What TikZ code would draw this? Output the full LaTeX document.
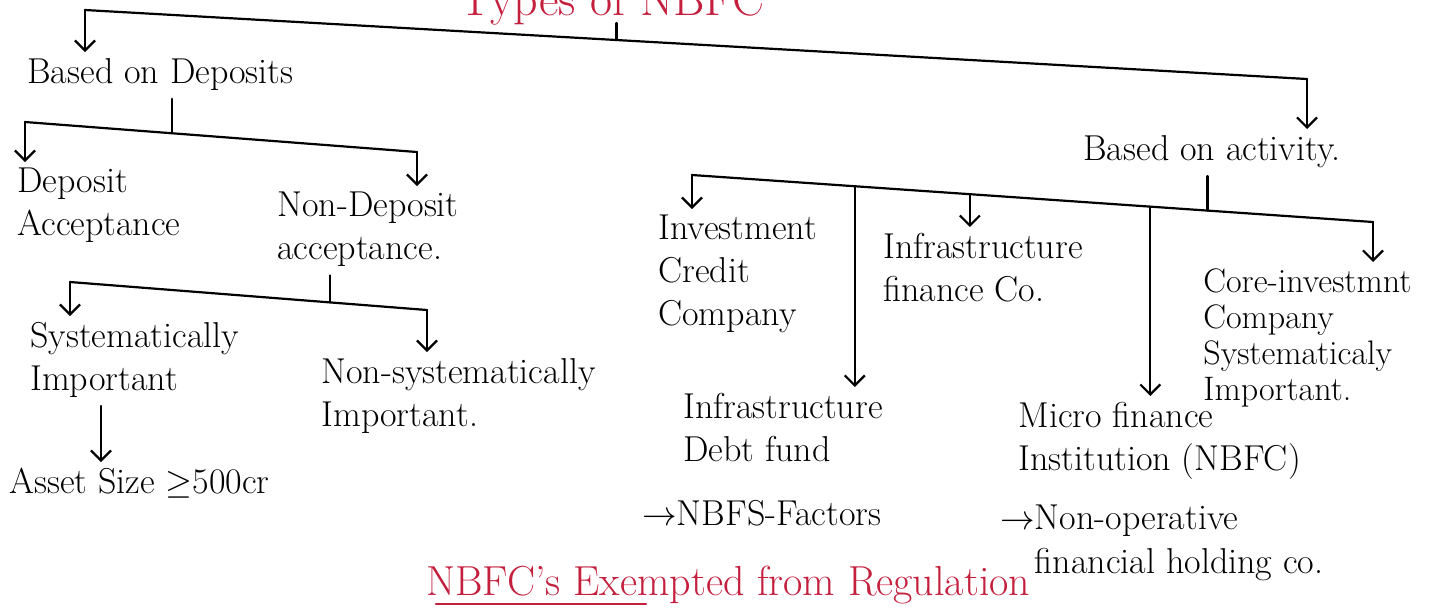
\documentclass[tikz,border=0pt]{standalone}
\usepackage{tikz}
\usepackage{amsmath}
\usepackage{amssymb}
\usetikzlibrary{arrows.meta, positioning, calc}

\definecolor{inkred}{RGB}{196,32,62}

\tikzset{
  note/.style={align=left, inner sep=0pt, anchor=north west, font=\fontsize{18}{21.5}\selectfont},
  redink/.style={inner sep=0pt, anchor=base west, text=inkred, font=\fontsize{24}{28}\selectfont},
  bar/.style={line width=1.1pt, line cap=round},
  tick/.style={bar, shorten <=4pt},
  down/.style={bar, -{Straight Barb[length=5pt,width=10pt]}, shorten >=3pt},
}

\begin{document}
\begin{tikzpicture}[x=0.5pt, y=-0.5pt]
% Page frame (same size as the scan)
\clip (0,0) rectangle (1447,607);

% Red headings
\node[redink, anchor=base] (title) at (612,15) {Types of NBFC};
\node[redink, font=\fontsize{21}{25}\selectfont] (exempt) at (426,595) {NBFC's Exempted from Regulation};
\draw[bar, inkred] ([shift={(10,9)}]exempt.base west) -- ([shift={(220,9)}]exempt.base west);

% Two main groups
\node[note] (dep) at (27,58) {Based on Deposits};
\node[note] (act) at (1083,135) {Based on activity.};

% Deposit side
\node[note] (dacc) at (17,168) {Deposit\\Acceptance};
\node[note] (nacc) at (277,192) {Non-Deposit\\acceptance.};
\node[note] (sysi) at (30,322) {Systematically\\Important};
\node[note] (nsys) at (321,358) {Non-systematically\\Important.};
\node[note] (asset) at (9,468) {Asset Size $\geq$500cr};

% Activity side
\node[note] (icc) at (658,215) {Investment\\Credit\\Company};
\node[note] (ifc) at (883,233) {Infrastructure\\finance Co.};
\node[note, font=\fontsize{17}{18}\selectfont] (cic) at (1203,268) {Core-investmnt\\Company\\Systematicaly\\Important.};
\node[note] (idf) at (683,393) {Infrastructure\\Debt fund};
\node[note] (mfi) at (1018,402) {Micro finance\\Institution (NBFC)};
\node[note] (fac) at (642,500) {$\rightarrow$NBFS-Factors};
\node[note] (nof) at (1000,505) {$\rightarrow$Non-operative\\\phantom{$\rightarrow$}financial holding co.};

% Top split
\coordinate (tl) at (85,10);
\coordinate (tr) at (1307,79);
\coordinate (tj) at ($(tl)!0.435!(tr)$);
\draw[bar] (tl) -- (tr);
\draw[tick] (title.base -| tj) -- (tj);
\draw[down] (tl) -- (tl |- dep.north);
\draw[down] (tr) -- (tr |- act.north);

% Deposit split
\coordinate (dl) at (25,122);
\coordinate (dr) at (417,152);
\coordinate (dj) at ($(dl)!0.375!(dr)$);
\draw[bar] (dl) -- (dr);
\draw[tick] (dep.south -| dj) -- (dj);
\draw[down] (dl) -- (dl |- dacc.north);
\draw[down] (dr) -- (dr |- nacc.north);

% Non-deposit split
\coordinate (nl) at (70,282);
\coordinate (nr) at (427,310);
\coordinate (nj) at ($(nl)!0.729!(nr)$);
\draw[bar] (nl) -- (nr);
\draw[tick] (nacc.south -| nj) -- (nj);
\draw[down] (nl) -- (nl |- sysi.north);
\draw[down] (nr) -- (nr |- nsys.north);

\coordinate (sa) at (101,0);
\draw[down, shorten <=4pt] (sysi.south -| sa) -- (sa |- asset.north);

% Activity split
\coordinate (al) at (692,175);
\coordinate (ar) at (1373,222);
\coordinate (aj) at ($(al)!0.757!(ar)$);
\draw[bar] (al) -- (ar);
\draw[tick] (act.south -| aj) -- (aj);
\draw[down] (al) -- (al |- icc.north);
\draw[down] (ar) -- (ar |- cic.north);

% branches hanging from the bar
\foreach \t/\n in {0.239/idf, 0.408/ifc, 0.673/mfi} {
  \coordinate (a\n) at ($(al)!\t!(ar)$);
  \draw[down] (a\n) -- (a\n |- \n.north);
}
\end{tikzpicture}
\end{document}
